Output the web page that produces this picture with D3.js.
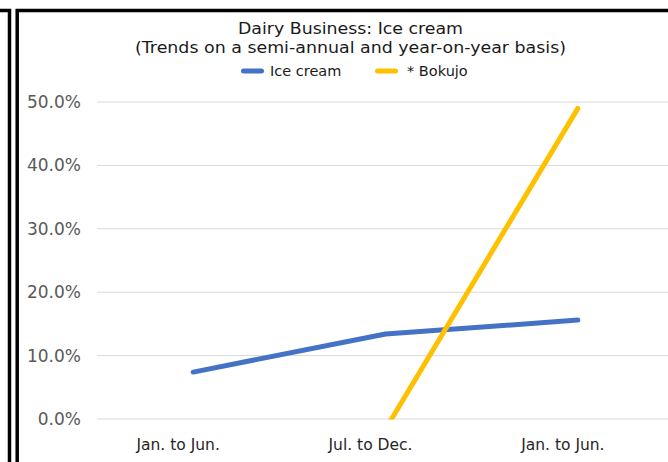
<!DOCTYPE html>
<html>
<head>
<meta charset="utf-8">
<script src="https://cdn.jsdelivr.net/npm/d3@7"></script>
<style>
  html, body { margin: 0; padding: 0; background: #fff; }
  svg { display: block; }
</style>
</head>
<body>
<svg id="chart" width="668" height="462"></svg>
<script>
// Half-year periods on the x axis
const categories = ["Jan. to Jun.", "Jul. to Dec.", "Jan. to Jun."];
// Year-on-year change (fraction) per period
const iceCream = [0.074, 0.134, 0.156];
const bokujo = [null, -0.016, 0.490];
const yTicks = [0, 0.1, 0.2, 0.3, 0.4, 0.5];
const seriesNames = ["Ice cream", "* Bokujo"];
const seriesColors = ["#4472C4", "#FFC000"];

const svg = d3.select("#chart");
const font = "'DejaVu Sans', Verdana, sans-serif";

// Panel frames
svg.append("path")
  .attr("d", "M0,10.5 H9.5 V470")
  .attr("fill", "none").attr("stroke", "#000").attr("stroke-width", 3.5);
svg.append("rect")
  .attr("x", 17.2).attr("y", 10.5).attr("width", 700).attr("height", 500)
  .attr("fill", "#fff").attr("stroke", "#000").attr("stroke-width", 3.5);

const plot = { left: 97, right: 674, top: 102, bottom: 419 };

const x = d3.scaleBand().domain(d3.range(categories.length))
  .range([plot.left, plot.right]);
const y = d3.scaleLinear().domain([0, 0.5]).range([plot.bottom, plot.top]);

// Gridlines
svg.append("g")
  .selectAll("line").data(yTicks).join("line")
  .attr("x1", plot.left).attr("x2", 668)
  .attr("y1", d => y(d)).attr("y2", d => y(d))
  .attr("stroke", "#d9d9d9").attr("stroke-width", 1);

// Y axis labels
const yAxis = d3.axisLeft(y).tickValues(yTicks).tickFormat(d3.format(".1%")).tickSize(0).tickPadding(16);
const gy = svg.append("g").attr("transform", `translate(${plot.left},0)`).call(yAxis);
gy.select(".domain").remove();
gy.selectAll("text").attr("font-family", font).attr("font-size", 17).attr("fill", "#595959");

// X axis labels
const xAxis = d3.axisBottom(x).tickFormat(i => categories[i]).tickSize(0).tickPadding(20);
const gx = svg.append("g").attr("transform", `translate(-15,${plot.bottom})`).call(xAxis);
gx.select(".domain").remove();
gx.selectAll("text").attr("font-family", font).attr("font-size", 15.5).attr("fill", "#262626");

// Lines, clipped to the plot's value range
svg.append("defs").append("clipPath").attr("id", "plotClip")
  .append("rect").attr("x", 0).attr("y", 0).attr("width", 668).attr("height", plot.bottom + 0.5);

const line = d3.line()
  .defined(d => d != null)
  .x((d, i) => x(i) + x.bandwidth() / 2)
  .y(d => y(d));

const lines = svg.append("g").attr("clip-path", "url(#plotClip)");
[iceCream, bokujo].forEach((vals, k) => {
  lines.append("path")
    .datum(vals)
    .attr("d", line)
    .attr("fill", "none")
    .attr("stroke", seriesColors[k])
    .attr("stroke-width", 5)
    .attr("stroke-linecap", "round")
    .attr("stroke-linejoin", "round");
});

// Title
const titleLines = [
  { text: "Dairy Business: Ice cream", y: 34, len: 225 },
  { text: "(Trends on a semi-annual and year-on-year basis)", y: 53, len: 431 }
];
svg.append("g").selectAll("text").data(titleLines).join("text")
  .attr("x", 350.5).attr("y", d => d.y)
  .attr("text-anchor", "middle")
  .attr("font-family", font).attr("font-size", 16).attr("fill", "#1a1a1a")
  .attr("textLength", d => d.len).attr("lengthAdjust", "spacingAndGlyphs")
  .text(d => d.text);

// Legend
const legendItems = [
  { x: 241, textX: 29 },
  { x: 375, textX: 32 }
];
seriesNames.forEach((name, k) => {
  const g = svg.append("g").attr("transform", `translate(${legendItems[k].x},71)`);
  g.append("line").attr("x1", 2.5).attr("x2", 20.5).attr("y1", 0).attr("y2", 0)
    .attr("stroke", seriesColors[k]).attr("stroke-width", 5).attr("stroke-linecap", "round");
  g.append("text").attr("x", legendItems[k].textX).attr("y", 5)
    .attr("font-family", font).attr("font-size", 14.5).attr("fill", "#1a1a1a").text(name);
});
</script>
</body>
</html>
